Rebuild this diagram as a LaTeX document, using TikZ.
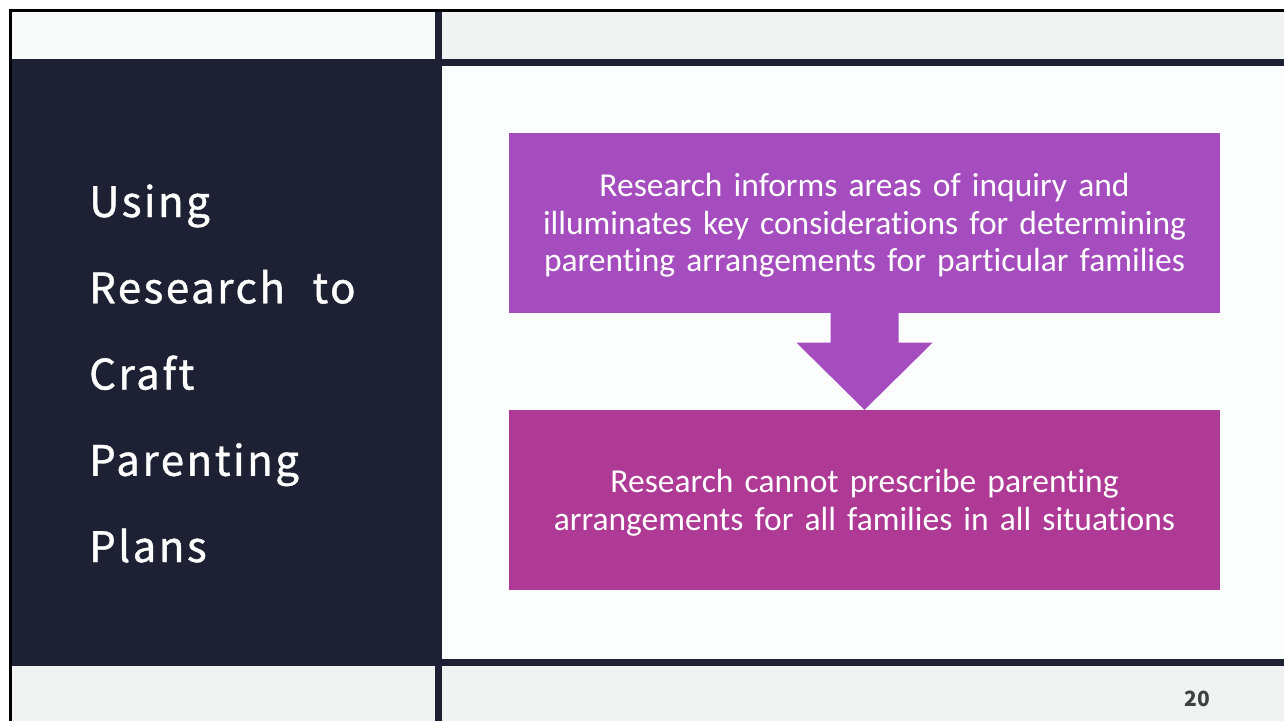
\documentclass[tikz,border=0pt]{standalone}
\usepackage{fontspec}
\setmainfont[Ligatures=NoCommon]{Carlito}
\newfontfamily\titlefont[LetterSpace=6, WordSpace=2.3, FakeBold=1]{Noto Sans CJK JP}
\newfontfamily\numfont{Noto Sans CJK JP}
\usetikzlibrary{calc}

\definecolor{navy}{HTML}{1E2033}
\definecolor{chiaro}{HTML}{F9FAFA}
\definecolor{grigio}{HTML}{F1F2F2}
\definecolor{bianco}{HTML}{FCFDFD}
\definecolor{viola}{HTML}{A54DBF}
\definecolor{magenta}{HTML}{AE3A96}
\definecolor{numero}{HTML}{404040}

\tikzset{
  blocco/.style={minimum width=711pt, minimum height=180pt, inner sep=0pt},
  testo/.style={inner sep=0pt, text=white, text width=700pt, align=center,
    font=\fontsize{33.5}{37.5}\selectfont},
  titolo/.style={anchor=base west, inner sep=0pt, text=white,
    font=\titlefont\fontsize{42}{42}\selectfont}
}

\begin{document}
\begin{tikzpicture}[x=1pt, y=-1pt]
    \useasboundingbox (0,0) rectangle (1284,721);
    % Sfondo e pannelli
    \fill[white] (0,0) rectangle (1284,721);
    \fill[navy] (12,12) rectangle (1284,721);
    \fill[chiaro] (12,12) rectangle (435,58.7);
    \fill[grigio] (442,12) rectangle (1284,59);
    \fill[bianco] (442,66) rectangle (1284,659);
    \fill[grigio] (12,666) rectangle (435,721);
    \fill[grigio] (442,666) rectangle (1284,721);
    % Bordo nero
    \draw[line width=3pt] (1284,10.5) -- (10.5,10.5) -- (10.5,721);

    % Titolo a sinistra
    \foreach \riga [count=\i from 0] in {Using, Research to, Craft, Parenting, Plans}
        \node[titolo] (t\i) at (89, 217+86.25*\i) {\riga};

    % Blocchi
    \node[blocco, fill=viola] (informa) at (864.5,222.5) {};
    \node[blocco, fill=magenta] (limiti) at (864.5,500) {};
    \node[testo] (informa-testo) at ($(informa.center)+(0,3)$)
        {Research informs areas of inquiry and\\
         illuminates key considerations for determining\\
         parenting arrangements for particular families};
    \node[testo] (limiti-testo) at ($(limiti.center)+(0,2.5)$)
        {Research cannot prescribe parenting\\
         arrangements for all families in all situations};

    % Freccia
    \fill[viola] ($(informa.south)+(-34,0)$) -- ++(0,30) -- ++(-34,0)
        -- (limiti.north)
        -- ($(informa.south)+(68,30)$) -- ++(-34,0) -- ($(informa.south)+(34,0)$) -- cycle;

    % Numero di pagina
    \node[text=numero, font=\numfont\bfseries\fontsize{21}{21}\selectfont] (pagina) at (1197,699) {20};
\end{tikzpicture}
\end{document}
